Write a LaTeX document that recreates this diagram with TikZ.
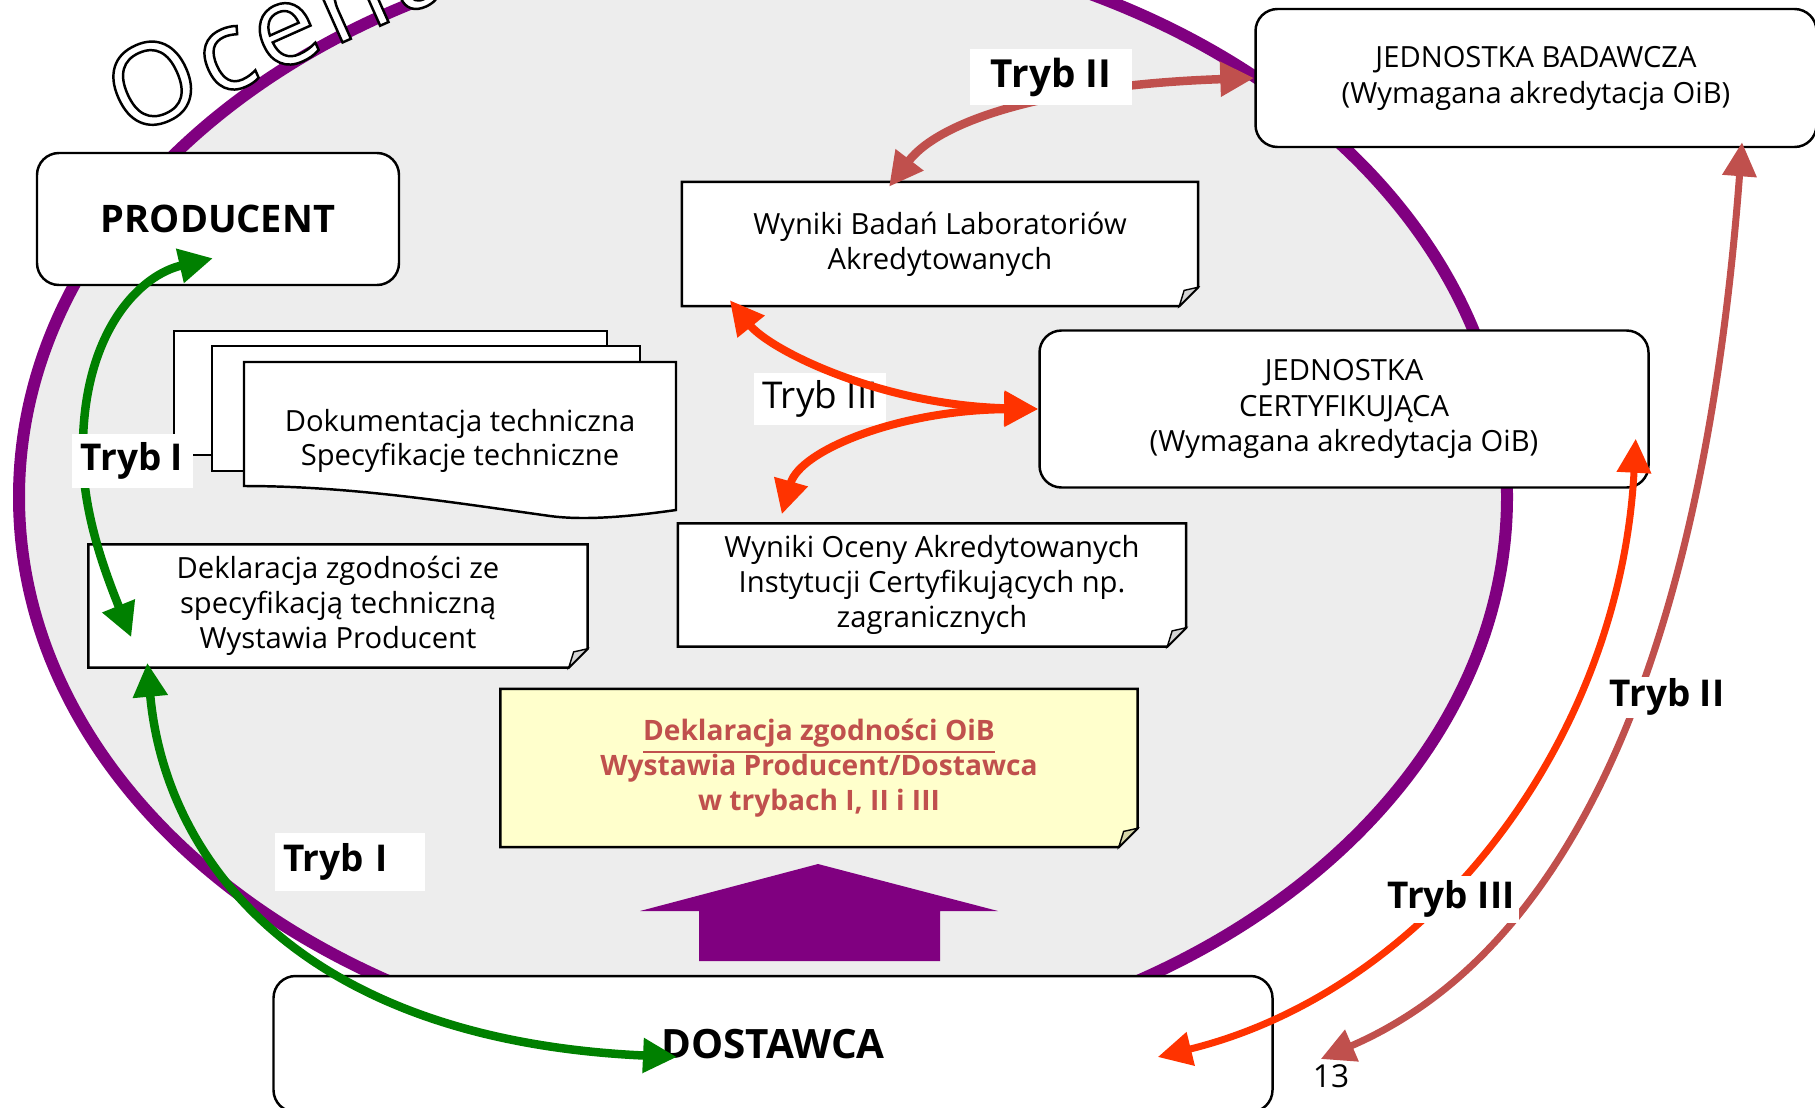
\documentclass[tikz,border=0pt]{standalone}
\usepackage{fontspec}
\setmainfont{Open Sans}
\newfontfamily\titlefont[LetterSpace=6]{Open Sans}
\usetikzlibrary{arrows.meta,calc}

\definecolor{ringpurple}{HTML}{800080}
\definecolor{ringgray}{HTML}{EDEDED}
\definecolor{modegreen}{HTML}{008000}
\definecolor{modeorange}{HTML}{FF3300}
\definecolor{moderose}{HTML}{C0504D}
\definecolor{noteyellow}{HTML}{FFFFCC}
\definecolor{foldtan}{HTML}{D4D4A8}
\definecolor{foldgray}{HTML}{D4D4D4}

\pgfdeclarelayer{ring}
\pgfdeclarelayer{paper}
\pgfsetlayers{ring,paper,main}

\newcommand{\notesheet}[3]{%
  \begin{pgfonlayer}{paper}
    \draw[fill=#2, line width=0.7pt] (#1.north west) -- (#1.north east)
      -- ([yshift=5.4pt]#1.south east) -- ([xshift=-5.4pt]#1.south east)
      -- (#1.south west) -- cycle;
    \draw[fill=#3, line width=0.4pt] ([yshift=5.4pt]#1.south east)
      -- ([xshift=-5.4pt]#1.south east) -- ([xshift=-4pt,yshift=4.5pt]#1.south east) -- cycle;
  \end{pgfonlayer}}

\begin{document}
\begin{tikzpicture}[x=0.1mm, y=-0.1mm, >={Triangle[length=3.4mm, width=3.3mm]},
    box/.style={draw, fill=white, line width=0.7pt, rounded corners=2.2mm, inner sep=0pt, align=center, font=\fontsize{8.3}{10.2}\selectfont},
    note/.style={inner sep=0pt, align=center, font=\fontsize{8.3}{9.9}\selectfont},
    mode/.style={fill=white, inner sep=0pt, font=\fontsize{10.5}{12}\selectfont\bfseries}]
                \useasboundingbox (0,0) rectangle (1815,1107);
                \begin{pgfonlayer}{ring}
                \draw[ringpurple, line width=1.2mm, fill=ringgray] (763,497) ellipse [x radius=74.4mm, y radius=56mm];
                \end{pgfonlayer}
                \node[rotate=24, anchor=base west, inner sep=0pt, font=\titlefont\fontsize{32}{32}\selectfont] (naglowek) at (128,138) {\textcolor{white}{\special{pdf:literal direct 0 G 2 Tr 0.7 w}Ocena\special{pdf:literal direct 0 Tr}}};

                \node[box, minimum width=36.2mm, minimum height=13.2mm, font=\fontsize{10.8}{13}\selectfont\bfseries] (producent) at (218,219) {PRODUCENT};
                \node[box, minimum width=56.1mm, minimum height=13.8mm] (badawcza) at (1536,78) {JEDNOSTKA BADAWCZA\\(Wymagana akredytacja OiB)};
                \node[box, minimum width=60.9mm, minimum height=15.7mm] (certyf) at (1344,409) {JEDNOSTKA\\CERTYFIKUJĄCA\\(Wymagana akredytacja OiB)};
                \node[box, minimum width=99.9mm, minimum height=13.6mm, font=\fontsize{11.5}{13}\selectfont\bfseries] (dostawca) at (773,1044) {DOSTAWCA};

                \node[note, minimum width=51.5mm, minimum height=12.3mm] (badania) at (940,244) {Wyniki Badań Laboratoriów\\Akredytowanych};
                \notesheet{badania}{white}{foldgray}
                \node[note, minimum width=49.8mm, minimum height=12.2mm] (deklaracja) at (338,606) {Deklaracja zgodności ze\\specyfikacją techniczną\\Wystawia Producent};
                \notesheet{deklaracja}{white}{foldgray}
                \node[note, minimum width=50.7mm, minimum height=12.2mm] (ocena) at (932,585) {Wyniki Oceny Akredytowanych\\Instytucji Certyfikujących np.\\zagranicznych};
                \notesheet{ocena}{white}{foldgray}
                \node[note, minimum width=63.6mm, minimum height=15.7mm, text=moderose, font=\fontsize{8}{10}\selectfont\bfseries] (oib) at (819,768) {\underline{Deklaracja zgodności OiB}\\Wystawia Producent/Dostawca\\w trybach I, II i III};
                \notesheet{oib}{noteyellow}{foldtan}

                \begin{pgfonlayer}{paper}
                \draw[fill=white, line width=0.7pt] (174,331) rectangle (607,455);
                \draw[fill=white, line width=0.7pt] (212,346) rectangle (640,471);
                \draw[fill=white, line width=0.7pt] (244,362) -- (676,362) -- (676,510) .. controls (620,518) and (580,520) .. (550,516) .. controls (450,502) and (350,486) .. (244,486) -- cycle;
                \end{pgfonlayer}
                \node[note] (dokumentacja) at (460,441) {Dokumentacja techniczna\\Specyfikacje techniczne};

                \fill[ringpurple] (699,961) -- (699,911) -- (640,911) -- (818,864) -- (998,911) -- (940,911) -- (940,961) -- cycle;
                \node[font=\fontsize{9}{10}\selectfont, inner sep=0pt] (strona) at (1331,1076) {13};

                \node[fill=white, inner sep=0pt, minimum width=13.2mm, minimum height=5.2mm, font=\fontsize{10.5}{12}\selectfont] (trybIIIa) at (820,399) {Tryb III};
                \draw[<->, modeorange, line width=0.8mm] ($(badania.south west)+(48,-6)$) .. controls (770,350) and (880,405) .. (certyf.west);
                \draw[<->, modeorange, line width=0.8mm] (certyf.west) .. controls (900,410) and (800,450) .. ($(ocena.north west)+(104,-9)$);

                \draw[<->, modegreen, line width=0.85mm] ($(deklaracja.north west)+(43,93)$) .. controls (100,560) and (80,500) .. (83,440) .. controls (86,330) and (140,275) .. ($(producent.south)+(-5,-28)$);
                \draw[<->, modegreen, line width=0.85mm] ($(deklaracja.south west)+(59,-5)$) .. controls (165,860) and (300,1040) .. ($(dostawca.center)+(-96,13)$);
                \node[mode, minimum width=12.1mm, minimum height=5.4mm] (trybIa) at (132,461) {Tryb I};
                \node[mode, text width=13.4mm, inner xsep=0.8mm, minimum height=5.8mm, align=left] (trybIb) at (350,862) {Tryb I};

                \draw[<->, moderose, line width=0.85mm] ($(badania.north)+(-51,5)$) .. controls (940,120) and (1050,85) .. (badawcza.west);
                \node[mode, minimum width=16.2mm, minimum height=5.6mm, font=\fontsize{11}{12}\selectfont\bfseries] (trybIIa) at (1051,77) {Tryb II};

                \draw[<->, moderose, line width=0.7mm] ($(badawcza.south)+(206,-6)$) .. controls (1700,700) and (1550,960) .. ($(dostawca.east)+(47,15)$);
                \draw[<->, modeorange, line width=0.7mm] ($(certyf.south east)+(-14,-50)$) .. controls (1620,740) and (1430,990) .. ($(dostawca.east)+(-116,13)$);
                \node[mode, minimum width=12mm, minimum height=4.1mm] (trybIIb) at (1667,697) {Tryb II};
                \node[mode, minimum width=13.6mm, minimum height=4.7mm] (trybIIIb) at (1451,899) {Tryb III};
            \end{tikzpicture}
\end{document}
